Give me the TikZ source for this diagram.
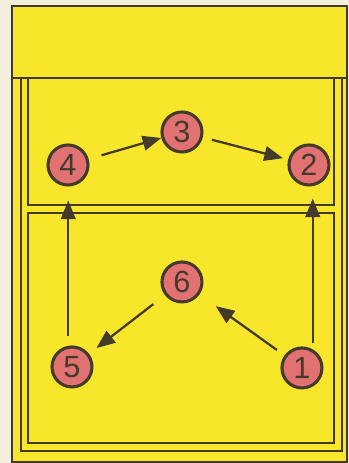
\documentclass[tikz,border=0pt]{standalone}
\usepackage{fontspec}
\setmainfont{Liberation Sans}
\usetikzlibrary{arrows.meta}
\definecolor{paper}{HTML}{F4EFDC}
\definecolor{board}{HTML}{F8E62A}
\definecolor{ink}{HTML}{433A2C}
\definecolor{ball}{HTML}{E27272}

\begin{document}
\begin{tikzpicture}[x=0.75pt,y=-0.75pt,>={Triangle[length=14pt,width=11pt]},
  spot/.style={circle,draw=ink,line width=2.3pt,fill=ball,minimum size=30pt,inner sep=0pt,text=ink,font=\fontsize{23}{23}\selectfont},
  move/.style={->,draw=ink,line width=1.7pt}]
\fill[paper] (0,0) rectangle (349,463);
\fill[board] (12,6) rectangle (347,463);
\draw[ink,line width=1.6pt] (12,6) rectangle (347,462);
\draw[ink,line width=1.6pt] (12,78) -- (347,78);
\draw[ink,line width=1.4pt] (21,78) rectangle (342,451);
\draw[ink,line width=1.4pt] (28,78) rectangle (334,205);
\draw[ink,line width=1.4pt] (28,213) rectangle (334,443);

\node[spot] (n1) at (302,368) {1};
\node[spot] (n2) at (309,165) {2};
\node[spot] (n3) at (182,132) {3};
\node[spot] (n4) at (68,165) {4};
\node[spot] (n5) at (72,367) {5};
\node[spot] (n6) at (182,282) {6};

\draw[move,shorten <=10pt] (n4) -- (n3);
\draw[move,shorten <=7pt,shorten >=4pt] (n3) -- (n2);
\draw[move,shorten <=7pt,shorten >=10.5pt] (n5.100) -- (n5.100 |- n4.south);
\draw[move,shorten <=4.5pt,shorten >=9pt] (n1.60) -- (n1.60 |- n2.south);
\draw[move,shorten <=7pt,shorten >=15pt] (n1) -- (n6);
\draw[move,shorten <=11pt,shorten >=7pt] (n6) -- (n5);
\end{tikzpicture}
\end{document}
